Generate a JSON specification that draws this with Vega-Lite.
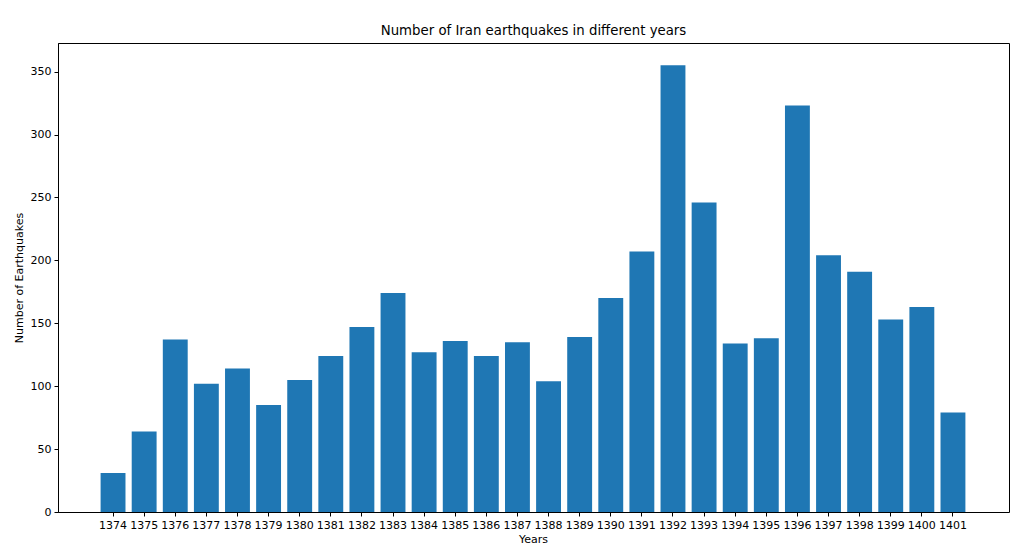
{
  "$schema": "https://vega.github.io/schema/vega-lite/v6.json",
  "autosize": "none",
  "width": 951,
  "height": 469,
  "padding": {"left": 58, "top": 43, "right": 15, "bottom": 37},
  "background": "white",
  "title": {"text": "Number of Iran earthquakes in different years", "font": "DejaVu Sans", "fontSize": 13.3, "fontWeight": "normal", "color": "black", "offset": 6},
  "data": {"values": [
    {"year": "1374", "count": 31},
    {"year": "1375", "count": 64},
    {"year": "1376", "count": 137},
    {"year": "1377", "count": 102},
    {"year": "1378", "count": 114},
    {"year": "1379", "count": 85},
    {"year": "1380", "count": 105},
    {"year": "1381", "count": 124},
    {"year": "1382", "count": 147},
    {"year": "1383", "count": 174},
    {"year": "1384", "count": 127},
    {"year": "1385", "count": 136},
    {"year": "1386", "count": 124},
    {"year": "1387", "count": 135},
    {"year": "1388", "count": 104},
    {"year": "1389", "count": 139},
    {"year": "1390", "count": 170},
    {"year": "1391", "count": 207},
    {"year": "1392", "count": 355},
    {"year": "1393", "count": 246},
    {"year": "1394", "count": 134},
    {"year": "1395", "count": 138},
    {"year": "1396", "count": 323},
    {"year": "1397", "count": 204},
    {"year": "1398", "count": 191},
    {"year": "1399", "count": 153},
    {"year": "1400", "count": 163},
    {"year": "1401", "count": 79}
  ]},
  "mark": {"type": "bar", "color": "#1f77b4"},
  "encoding": {
    "x": {"field": "year", "type": "nominal", "sort": null, "title": "Years",
      "scale": {"paddingInner": 0.2, "paddingOuter": 0, "range": [42.6, 907.4]},
      "axis": {"labelAngle": 0, "labelFont": "DejaVu Sans", "labelFontSize": 11, "labelColor": "black", "titleFont": "DejaVu Sans", "titleFontSize": 11, "titleFontWeight": "normal", "titleColor": "black", "tickColor": "black", "tickSize": 4, "domainColor": "black", "labelPadding": 3, "titlePadding": 3, "grid": false}},
    "y": {"field": "count", "type": "quantitative", "title": "Number of Earthquakes",
      "scale": {"domain": [0, 372.75], "nice": false, "zero": true},
      "axis": {"values": [0, 50, 100, 150, 200, 250, 300, 350], "labelFont": "DejaVu Sans", "labelFontSize": 11, "labelColor": "black", "titleFont": "DejaVu Sans", "titleFontSize": 11, "titleFontWeight": "normal", "titleColor": "black", "tickColor": "black", "tickSize": 4, "domainColor": "black", "labelPadding": 3, "titlePadding": 6, "grid": false}}
  },
  "config": {"view": {"stroke": "black", "strokeWidth": 1}}
}
